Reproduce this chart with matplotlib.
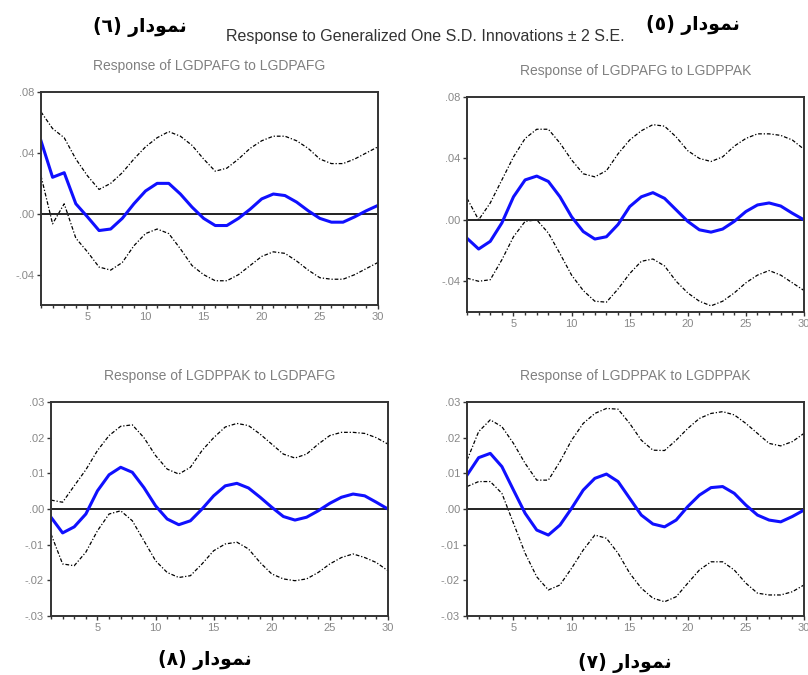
import numpy as np
import matplotlib.pyplot as plt
from matplotlib.ticker import FuncFormatter

periods = np.arange(1, 31)

# Response of LGDPAFG to LGDPAFG
afg_afg = [0.048, 0.024, 0.027, 0.0066, -0.002, -0.011, -0.010, -0.003, 0.0066, 0.015,
           0.020, 0.020, 0.013, 0.0044, -0.003, -0.0077, -0.0077, -0.003, 0.003, 0.0098,
           0.013, 0.012, 0.0077, 0.002, -0.003, -0.0055, -0.0055, -0.002, 0.002, 0.0055]
afg_afg_hi = [0.067, 0.056, 0.050, 0.036, 0.025, 0.016, 0.020, 0.027, 0.036, 0.044,
              0.050, 0.054, 0.051, 0.045, 0.036, 0.028, 0.030, 0.036, 0.043, 0.048,
              0.051, 0.051, 0.048, 0.043, 0.036, 0.033, 0.033, 0.036, 0.040, 0.044]
afg_afg_lo = [0.025, -0.0066, 0.0066, -0.016, -0.025, -0.035, -0.037, -0.032, -0.021, -0.013,
              -0.010, -0.013, -0.023, -0.034, -0.040, -0.044, -0.044, -0.040, -0.034, -0.028,
              -0.025, -0.026, -0.031, -0.037, -0.042, -0.043, -0.043, -0.040, -0.036, -0.032]

# Response of LGDPAFG to LGDPPAK
afg_pak = [-0.012, -0.019, -0.014, -0.002, 0.015, 0.026, 0.0285, 0.025, 0.015, 0.002,
           -0.0076, -0.0125, -0.011, -0.003, 0.0086, 0.015, 0.0177, 0.014, 0.0065, -0.001,
           -0.0065, -0.008, -0.006, -0.001, 0.0054, 0.0097, 0.011, 0.009, 0.0043, 0.0]
afg_pak_hi = [0.014, 0.0, 0.011, 0.026, 0.041, 0.053, 0.059, 0.059, 0.050, 0.039,
              0.030, 0.028, 0.032, 0.043, 0.052, 0.058, 0.062, 0.061, 0.054, 0.045,
              0.040, 0.038, 0.041, 0.048, 0.053, 0.056, 0.056, 0.055, 0.052, 0.046]
afg_pak_lo = [-0.038, -0.040, -0.039, -0.026, -0.011, -0.001, 0.0, -0.0086, -0.022, -0.036,
              -0.046, -0.053, -0.0536, -0.045, -0.035, -0.027, -0.0255, -0.030, -0.040, -0.0476,
              -0.053, -0.056, -0.053, -0.0476, -0.041, -0.036, -0.033, -0.036, -0.041, -0.046]

# Response of LGDPPAK to LGDPAFG
pak_afg = [-0.0023, -0.0067, -0.005, -0.0014, 0.0051, 0.0096, 0.0117, 0.0103, 0.006, 0.0009,
           -0.0028, -0.0044, -0.0033, 0.0, 0.0037, 0.0065, 0.0072, 0.0059, 0.0033, 0.0005,
           -0.0021, -0.0031, -0.0023, -0.0005, 0.0016, 0.0033, 0.0042, 0.0037, 0.0019, 0.0]
pak_afg_hi = [0.0025, 0.0019, 0.0065, 0.011, 0.0164, 0.0206, 0.0232, 0.0236, 0.020, 0.015,
              0.0112, 0.0098, 0.0117, 0.0164, 0.020, 0.023, 0.024, 0.0234, 0.021, 0.0182,
              0.0154, 0.0143, 0.0154, 0.0182, 0.0206, 0.0215, 0.0215, 0.0212, 0.020, 0.0182]
pak_afg_lo = [-0.007, -0.0154, -0.0159, -0.0121, -0.0061, -0.0014, -0.0005, -0.0033, -0.0089, -0.0145,
              -0.0178, -0.0192, -0.0187, -0.0154, -0.0117, -0.0098, -0.0093, -0.0112, -0.015, -0.0182,
              -0.0196, -0.0201, -0.0196, -0.0178, -0.0154, -0.0136, -0.0126, -0.0136, -0.015, -0.0173]

# Response of LGDPPAK to LGDPPAK
pak_pak = [0.0095, 0.0144, 0.0156, 0.0119, 0.0053, -0.0012, -0.0059, -0.0073, -0.0045, 0.0002,
           0.0053, 0.0086, 0.0098, 0.0077, 0.003, -0.0017, -0.0042, -0.005, -0.0031, 0.0007,
           0.0039, 0.006, 0.0063, 0.0044, 0.0011, -0.0017, -0.0031, -0.0036, -0.0021, -0.0003]
pak_pak_hi = [0.0137, 0.0217, 0.025, 0.0231, 0.0184, 0.0128, 0.0081, 0.0081, 0.0133, 0.0193,
              0.024, 0.0268, 0.0282, 0.028, 0.024, 0.0193, 0.0165, 0.0164, 0.0193, 0.0226,
              0.0254, 0.0268, 0.0273, 0.0264, 0.024, 0.0212, 0.0184, 0.0177, 0.0189, 0.0212]
pak_pak_lo = [0.0063, 0.0077, 0.0077, 0.0044, -0.004, -0.0124, -0.019, -0.0227, -0.0213, -0.0166,
              -0.0115, -0.0073, -0.0082, -0.0124, -0.018, -0.0222, -0.025, -0.026, -0.0246, -0.0208,
              -0.0171, -0.0148, -0.0148, -0.0171, -0.0208, -0.0236, -0.0241, -0.0241, -0.0232, -0.0213]

titles = ["Response of LGDPAFG to LGDPAFG", "Response of LGDPAFG to LGDPPAK",
          "Response of LGDPPAK to LGDPAFG", "Response of LGDPPAK to LGDPPAK"]

# "نمودار" in visual order with presentation forms (matplotlib does no Arabic shaping)
word = "\uFEAD\uFE8D\uFEA9\uFEEE\uFEE4\uFEE7"
labels = ["(\u0666) " + word, "(\u0665) " + word, "(\u0668) " + word, "(\u0667) " + word]

plt.rcParams['font.family'] = ['Liberation Sans', 'DejaVu Sans']

fig = plt.figure(figsize=(8.08, 6.75), dpi=100)

# [left, bottom, width, height]
rects = [[0.0507, 0.548, 0.417, 0.3156],
         [0.578, 0.5378, 0.417, 0.3185],
         [0.0631, 0.0874, 0.417, 0.317],
         [0.578, 0.0874, 0.417, 0.317]]

panels = [(afg_afg, afg_afg_hi, afg_afg_lo, (-0.06, 0.08), [0.08, 0.04, 0.0, -0.04]),
          (afg_pak, afg_pak_hi, afg_pak_lo, (-0.06, 0.08), [0.08, 0.04, 0.0, -0.04]),
          (pak_afg, pak_afg_hi, pak_afg_lo, (-0.03, 0.03), [0.03, 0.02, 0.01, 0.0, -0.01, -0.02, -0.03]),
          (pak_pak, pak_pak_hi, pak_pak_lo, (-0.03, 0.03), [0.03, 0.02, 0.01, 0.0, -0.01, -0.02, -0.03])]


def fmt(v, pos):
    s = "%.2f" % v
    if s.startswith("-0"):
        return "-" + s[2:]
    return s[1:]


for i, (resp, hi, lo, ylim, yt) in enumerate(panels):
    ax = fig.add_axes(rects[i])
    ax.plot(periods, hi, color='black', lw=0.9, ls=(0, (3, 1.5, 1, 1.5)))
    ax.plot(periods, lo, color='black', lw=0.9, ls=(0, (3, 1.5, 1, 1.5)))
    ax.axhline(0, color='#222222', lw=1.4)
    ax.plot(periods, resp, color='#1010ff', lw=2.2)
    ax.set_xlim(1, 30)
    ax.set_ylim(*ylim)
    ax.set_yticks(yt)
    ax.yaxis.set_major_formatter(FuncFormatter(fmt))
    ax.set_xticks([5, 10, 15, 20, 25, 30])
    ax.set_xticks(periods, minor=True)
    ax.tick_params(axis='both', which='both', direction='out', color='#333333',
                   labelcolor='#888888', labelsize=8, length=3, width=1, pad=2)
    ax.tick_params(axis='x', which='minor', length=2.5)
    for sp in ax.spines.values():
        sp.set_color('#333333')
        sp.set_linewidth(1.4)
    ax.set_title(titles[i], fontsize=10, color='#808080', pad=16)

fig.text(0.526, 0.946, "Response to Generalized One S.D. Innovations \u00b1 2 S.E.",
         ha='center', va='center', fontsize=11.5, color='#333333')

label_pos = [(0.173, 0.960), (0.858, 0.963), (0.253, 0.022), (0.773, 0.018)]
for (x, y), lab in zip(label_pos, labels):
    fig.text(x, y, lab, ha='center', va='center', fontsize=13.5, fontweight='bold',
             family=['DejaVu Sans'], color='black')

fig.savefig('out.png', dpi=100)
